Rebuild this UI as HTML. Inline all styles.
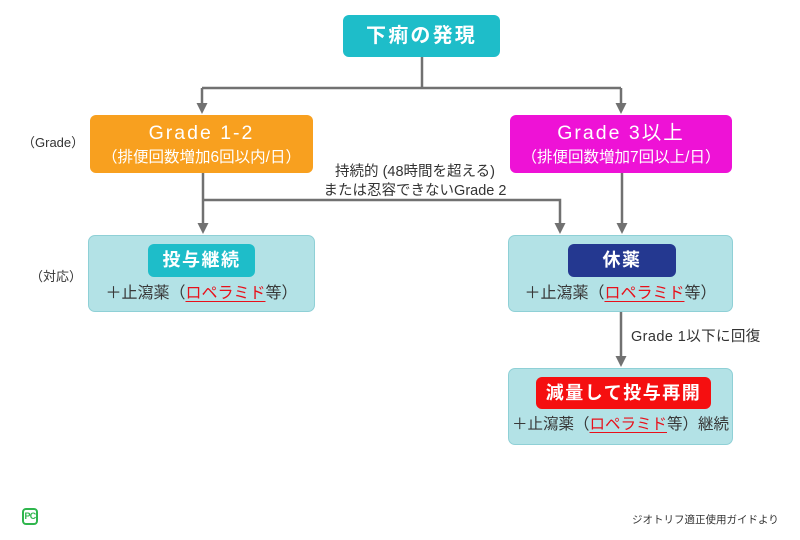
<!DOCTYPE html>
<html><head><meta charset="utf-8">
<style>
*{margin:0;padding:0;box-sizing:border-box}
html,body{width:800px;height:540px;background:#fff;overflow:hidden}
body{position:relative;font-family:"Liberation Sans","Noto Sans CJK JP",sans-serif;color:#383838}
.a{position:absolute}
.box{position:absolute;border-radius:6px}
.t{position:absolute;left:0;right:0;text-align:center;white-space:nowrap}
.light{background:#b3e2e6;border:1.5px solid #8fd0d6;border-radius:7px}
.badge{position:absolute;border-radius:6px;color:#fff;font-weight:bold;text-align:center;white-space:nowrap}
.red{color:#e8101a;text-decoration:underline;text-decoration-color:#e8101a;text-underline-offset:3px}
</style></head><body>
<svg class="a" style="left:0;top:0" width="800" height="540">
 <g stroke="#717171" stroke-width="2.5" fill="none">
  <path d="M422 57V88"/>
  <path d="M202 88H621"/>
  <path d="M202 88V104"/>
  <path d="M621 88V104"/>
  <path d="M203 173V224"/>
  <path d="M203 200H560V224"/>
  <path d="M622 173V224"/>
  <path d="M621 312V357"/>
 </g>
 <g fill="#717171">
  <polygon points="196.5,103 207.5,103 202,114"/>
  <polygon points="615.5,103 626.5,103 621,114"/>
  <polygon points="197.5,223 208.5,223 203,234"/>
  <polygon points="554.5,223 565.5,223 560,234"/>
  <polygon points="616.5,223 627.5,223 622,234"/>
  <polygon points="615.5,356 626.5,356 621,367"/>
 </g>
</svg>

<div class="box" style="left:343px;top:15px;width:157px;height:42px;background:#1ebdc9">
 <div class="t" style="top:9px;font-size:20px;line-height:24px;font-weight:bold;color:#fff;letter-spacing:2.2px">下痢の発現</div>
</div>

<div class="a" style="left:22px;top:134px;font-size:13px;line-height:18px;color:#333">（Grade）</div>
<div class="a" style="left:30px;top:268px;font-size:13px;line-height:18px;color:#333">（対応）</div>

<div class="box" style="left:90px;top:115px;width:223px;height:58px;background:#f8a01f;color:#fff">
 <div class="t" style="top:7px;font-size:19.5px;line-height:22px;letter-spacing:2px">Grade 1-2</div>
 <div class="t" style="top:33px;font-size:15.5px;line-height:20px">（排便回数増加6回以内/日）</div>
</div>

<div class="box" style="left:510px;top:115px;width:222px;height:58px;background:#ee12d6;color:#fff">
 <div class="t" style="top:7px;font-size:19.5px;line-height:22px;letter-spacing:2px">Grade 3以上</div>
 <div class="t" style="top:33px;font-size:15.5px;line-height:20px">（排便回数増加7回以上/日）</div>
</div>

<div class="a" style="left:290px;top:163px;width:250px;text-align:center;font-size:14.5px;line-height:19px;color:#333;white-space:nowrap">持続的 (48時間を超える)<br>または忍容できないGrade 2</div>

<div class="box light" style="left:88px;top:235px;width:227px;height:77px">
 <div class="badge" style="left:59px;top:8px;width:107px;height:33px;background:#1ebdc9;font-size:18px;line-height:33px;letter-spacing:1.5px">投与継続</div>
 <div class="t" style="top:48px;font-size:16px;line-height:20px">＋止瀉薬（<span class="red">ロペラミド</span>等）</div>
</div>

<div class="box light" style="left:508px;top:235px;width:225px;height:77px">
 <div class="badge" style="left:59px;top:8px;width:108px;height:33px;background:#243890;font-size:18px;line-height:33px;letter-spacing:1.5px">休薬</div>
 <div class="t" style="top:48px;font-size:16px;line-height:20px">＋止瀉薬（<span class="red">ロペラミド</span>等）</div>
</div>

<div class="a" style="left:631px;top:328px;font-size:14.5px;line-height:18px;letter-spacing:0.4px;color:#333;white-space:nowrap">Grade 1以下に回復</div>

<div class="box light" style="left:508px;top:368px;width:225px;height:77px">
 <div class="badge" style="left:27px;top:8px;width:175px;height:32px;background:#f50f10;font-size:18px;line-height:32px;letter-spacing:1.5px">減量して投与再開</div>
 <div class="t" style="top:46px;font-size:15.5px;line-height:20px">＋止瀉薬（<span class="red">ロペラミド</span>等）継続</div>
</div>

<div class="a" style="left:22px;top:508px;width:16px;height:17px;border:2px solid #2fb64d;border-radius:4px;color:#2fb64d;font-size:9px;font-weight:bold;line-height:13px;text-align:center;letter-spacing:-0.8px">PC</div>

<div class="a" style="left:632px;top:512px;font-size:10.5px;line-height:16px;color:#333;white-space:nowrap">ジオトリフ適正使用ガイドより</div>
</body></html>
